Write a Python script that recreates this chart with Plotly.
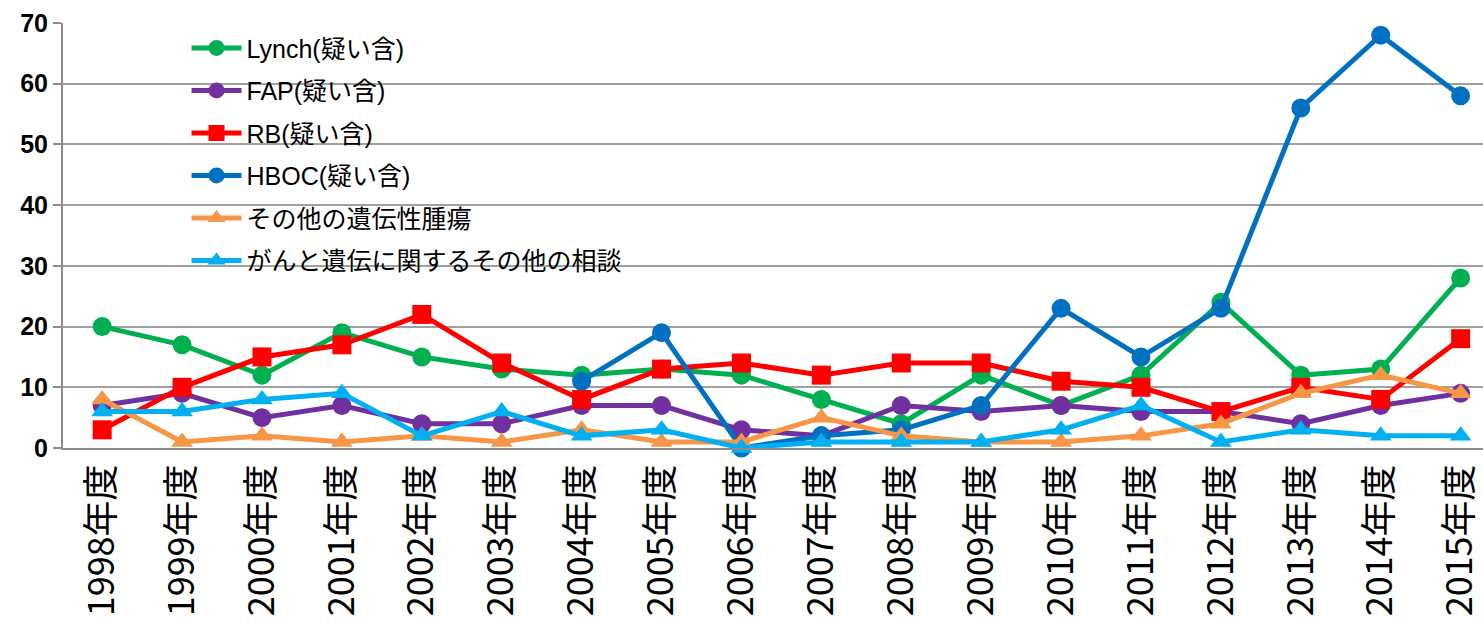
import plotly.graph_objects as go

years = ["1998年度", "1999年度", "2000年度", "2001年度", "2002年度", "2003年度",
         "2004年度", "2005年度", "2006年度", "2007年度", "2008年度", "2009年度",
         "2010年度", "2011年度", "2012年度", "2013年度", "2014年度", "2015年度"]

lynch = [20, 17, 12, 19, 15, 13, 12, 13, 12, 8, 4, 12, 7, 12, 24, 12, 13, 28]
fap = [7, 9, 5, 7, 4, 4, 7, 7, 3, 2, 7, 6, 7, 6, 6, 4, 7, 9]
rb = [3, 10, 15, 17, 22, 14, 8, 13, 14, 12, 14, 14, 11, 10, 6, 10, 8, 18]
hboc = [None, None, None, None, None, None, 11, 19, 0, 2, 3, 7, 23, 15, 23, 56, 68, 58]
other_tumor = [8, 1, 2, 1, 2, 1, 3, 1, 1, 5, 2, 1, 1, 2, 4, 9, 12, 9]
other_consult = [6, 6, 8, 9, 2, 6, 2, 3, 0, 1, 1, 1, 3, 7, 1, 3, 2, 2]

series = [
    ("Lynch(疑い含)", lynch, "#00B050", "circle"),
    ("FAP(疑い含)", fap, "#7030A0", "circle"),
    ("RB(疑い含)", rb, "#FF0000", "square"),
    ("HBOC(疑い含)", hboc, "#0070C0", "circle"),
    ("その他の遺伝性腫瘍", other_tumor, "#F79646", "triangle-up"),
    ("がんと遺伝に関するその他の相談", other_consult, "#00B0F0", "triangle-up"),
]

fig = go.Figure()
for i, (name, vals, color, symbol) in enumerate(series):
    fig.add_trace(go.Scatter(
        x=list(range(len(years))), y=vals, name=name, mode="lines+markers",
        legendgroup=f"g{i}",
        line=dict(color=color, width=5),
        marker=dict(color=color, symbol=symbol, size=19),
        cliponaxis=False,
    ))

font_main = "Liberation Sans, Noto Sans CJK JP, sans-serif"

fig.update_layout(
    width=1483, height=626,
    margin=dict(l=63, r=0, t=23, b=178),
    paper_bgcolor="white", plot_bgcolor="white",
    showlegend=True,
    legend=dict(
        x=0.087, y=0.995, xanchor="left", yanchor="top",
        font=dict(family=font_main, size=25, color="black"),
        bgcolor="rgba(0,0,0,0)", itemwidth=50,
        tracegroupgap=7,
    ),
    xaxis=dict(
        range=[-0.49, 17.28],
        tickmode="array", tickvals=list(range(len(years))), ticktext=years,
        tickangle=-90, ticklabeloverflow="allow", automargin=False,
        tickfont=dict(family="Noto Sans CJK JP, sans-serif", size=36, color="black"),
        showgrid=False, zeroline=False,
        showline=True, linecolor="#8c8c8c", linewidth=2,
        ticks="",
    ),
    yaxis=dict(
        range=[0, 70], dtick=10, automargin=False,
        tickfont=dict(family="Liberation Sans, Arial, sans-serif", size=25, color="black", weight="bold"),
        showgrid=True, gridcolor="#a0a0a0", gridwidth=2,
        zeroline=False,
        showline=True, linecolor="#8c8c8c", linewidth=2,
        ticks="outside", ticklen=8, tickcolor="#8c8c8c", tickwidth=2,
    ),
)

fig.write_html("out.html")
